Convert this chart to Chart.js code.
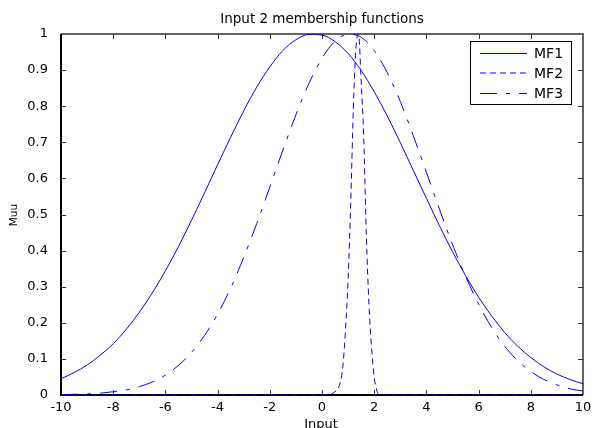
<!DOCTYPE html>
<html>
<head>
<meta charset="utf-8">
<script src="https://cdn.jsdelivr.net/npm/chart.js@4"></script>
<style>
  html, body { margin: 0; padding: 0; background: #fff; }
  #wrap { width: 593px; height: 428px; }
</style>
</head>
<body>
<div id="wrap"><canvas id="mfChart" width="593" height="428"></canvas></div>
<script>
// x positions used for MF1 and MF3 (step 0.5)
const inputX = [-10, -9.5, -9, -8.5, -8, -7.5, -7, -6.5, -6, -5.5, -5, -4.5, -4, -3.5, -3, -2.5, -2, -1.5, -1, -0.5,
                0, 0.5, 1, 1.5, 2, 2.5, 3, 3.5, 4, 4.5, 5, 5.5, 6, 6.5, 7, 7.5, 8, 8.5, 9, 9.5, 10];

// values
const mf1 = [0.045, 0.062, 0.083, 0.110, 0.142, 0.182, 0.229, 0.283, 0.344, 0.411, 0.484, 0.560, 0.638, 0.714, 0.787, 0.853, 0.909, 0.954, 0.984, 0.999,
             0.997, 0.979, 0.946, 0.899, 0.840, 0.773, 0.699, 0.622, 0.545, 0.469, 0.397, 0.331, 0.271, 0.219, 0.173, 0.135, 0.104, 0.078, 0.058, 0.043, 0.031];
const mf3 = [0.001, 0.002, 0.003, 0.005, 0.009, 0.014, 0.023, 0.036, 0.055, 0.082, 0.118, 0.165, 0.224, 0.296, 0.381, 0.475, 0.576, 0.678, 0.776, 0.863,
             0.933, 0.980, 0.999, 0.991, 0.954, 0.893, 0.813, 0.718, 0.617, 0.515, 0.417, 0.329, 0.252, 0.187, 0.135, 0.095, 0.065, 0.043, 0.028, 0.017, 0.011];

// MF2 is narrow, so it has its own x positions
const mf2X = [-10, 0.2, 0.4, 0.5, 0.6, 0.7, 0.8, 0.9, 1.0, 1.1, 1.2, 1.3, 1.4, 1.5, 1.6, 1.7, 1.8, 1.9, 2.0, 2.1, 2.2, 10];
const mf2 = [0, 0, 0.004, 0.009, 0.016, 0.035, 0.08, 0.18, 0.32, 0.53, 0.79, 0.96, 1.0, 0.87, 0.71, 0.44, 0.25, 0.13, 0.05, 0.012, 0, 0];

const xTicks = [-10, -8, -6, -4, -2, 0, 2, 4, 6, 8, 10];
const yTicks = [0, 0.1, 0.2, 0.3, 0.4, 0.5, 0.6, 0.7, 0.8, 0.9, 1];

const seriesNames = ['MF1', 'MF2', 'MF3'];
const titleText = 'Input 2 membership functions';
const xTitle = 'Input';
const yTitle = 'Muu';

const FONT = '"DejaVu Sans", sans-serif';
const blue = '#0000ff';

const toPts = (xs, ys) => xs.map((x, i) => ({ x: x, y: ys[i] }));

// рамка, засечки внутрь, подписи и легенда в стиле MATLAB
const matlabFrame = {
    id: 'matlabFrame',
    beforeDatasetsDraw(chart) {
        const { ctx, chartArea: a, scales } = chart;
        ctx.save();
        ctx.strokeStyle = '#333';
        ctx.lineWidth = 1;
        // засечки
        ctx.beginPath();
        xTicks.slice(1, -1).forEach(v => {
            const px = Math.round(scales.x.getPixelForValue(v)) + 0.5;
            ctx.moveTo(px, a.bottom); ctx.lineTo(px, a.bottom - 5);
            ctx.moveTo(px, a.top); ctx.lineTo(px, a.top + 5);
        });
        yTicks.slice(1, -1).forEach(v => {
            const py = Math.round(scales.y.getPixelForValue(v)) + 0.5;
            ctx.moveTo(a.left, py); ctx.lineTo(a.left + 5, py);
            ctx.moveTo(a.right, py); ctx.lineTo(a.right - 5, py);
        });
        ctx.stroke();
        // верх и право тонкие
        ctx.lineWidth = 1.5;
        ctx.beginPath();
        ctx.moveTo(a.left, a.top); ctx.lineTo(a.right, a.top); ctx.lineTo(a.right, a.bottom);
        ctx.stroke();
        // лево и низ толще
        ctx.strokeStyle = '#000';
        ctx.lineWidth = 2;
        ctx.beginPath();
        ctx.moveTo(a.left, a.top); ctx.lineTo(a.left, a.bottom); ctx.lineTo(a.right, a.bottom);
        ctx.stroke();
        ctx.restore();
    },
    afterDraw(chart) {
        const { ctx, chartArea: a } = chart;
        ctx.save();
        ctx.fillStyle = '#000';
        ctx.textAlign = 'center';
        ctx.textBaseline = 'alphabetic';
        ctx.font = '13.5px ' + FONT;
        ctx.fillText(titleText, (a.left + a.right) / 2, 23);
        ctx.font = '13px ' + FONT;
        ctx.fillText(xTitle, (a.left + a.right) / 2 - 1, 428);
        ctx.save();
        ctx.translate(17, 215);
        ctx.rotate(-Math.PI / 2);
        ctx.font = '10.5px ' + FONT;
        ctx.fillText(yTitle, 0, 0);
        ctx.restore();

        // легенда
        const bx = 470.5, by = 41.5, bw = 101, bh = 63;
        ctx.fillStyle = '#fff';
        ctx.fillRect(bx, by, bw, bh);
        ctx.strokeStyle = '#000';
        ctx.lineWidth = 1;
        ctx.strokeRect(bx, by, bw, bh);
        ctx.font = '14px ' + FONT;
        ctx.textAlign = 'left';
        ctx.textBaseline = 'middle';
        const rows = [53.5, 73, 93.5];
        chart.data.datasets.forEach((ds, i) => {
            ctx.strokeStyle = ds.borderColor;
            ctx.lineWidth = ds.borderWidth;
            ctx.setLineDash(ds.borderDash || []);
            ctx.beginPath();
            ctx.moveTo(480, rows[i]);
            ctx.lineTo(527, rows[i]);
            ctx.stroke();
            ctx.setLineDash([]);
            ctx.fillStyle = '#000';
            ctx.fillText(ds.label, 534, rows[i] + 1);
        });
        ctx.restore();
    }
};

new Chart(document.getElementById('mfChart'), {
    type: 'line',
    data: {
        datasets: [
            {
                label: seriesNames[0],
                data: toPts(inputX, mf1),
                borderColor: blue,
                borderWidth: 1,
                borderDash: []
            },
            {
                label: seriesNames[1],
                data: toPts(mf2X, mf2),
                borderColor: blue,
                borderWidth: 1,
                borderDash: [6, 4]
            },
            {
                label: seriesNames[2],
                data: toPts(inputX, mf3),
                borderColor: blue,
                borderWidth: 1,
                borderDash: [17, 9, 4, 9]
            }
        ]
    },
    options: {
        responsive: false,
        animation: false,
        layout: { padding: { left: 0, right: 10, top: 34, bottom: 0 } },
        elements: {
            point: { radius: 0 },
            line: { cubicInterpolationMode: 'monotone', fill: false }
        },
        datasets: { line: { clip: 3 } },
        plugins: {
            legend: { display: false },
            title: { display: false },
            tooltip: { enabled: false }
        },
        scales: {
            x: {
                type: 'linear',
                min: -10,
                max: 10,
                afterFit: s => { s.height = 33; },
                afterBuildTicks: s => { s.ticks = xTicks.map(v => ({ value: v })); },
                grid: { display: false },
                border: { display: false },
                ticks: {
                    color: '#000',
                    padding: -3,
                    maxRotation: 0,
                    autoSkip: false,
                    font: { family: FONT, size: 13 },
                    callback: v => String(v)
                }
            },
            y: {
                min: 0,
                max: 1,
                afterFit: s => { s.width = 61; },
                afterBuildTicks: s => { s.ticks = yTicks.map(v => ({ value: v })); },
                grid: { display: false },
                border: { display: false },
                ticks: {
                    color: '#000',
                    padding: 5,
                    autoSkip: false,
                    font: { family: FONT, size: 13 },
                    callback: v => String(+v.toFixed(1))
                }
            }
        }
    },
    plugins: [matlabFrame]
});
</script>
</body>
</html>
